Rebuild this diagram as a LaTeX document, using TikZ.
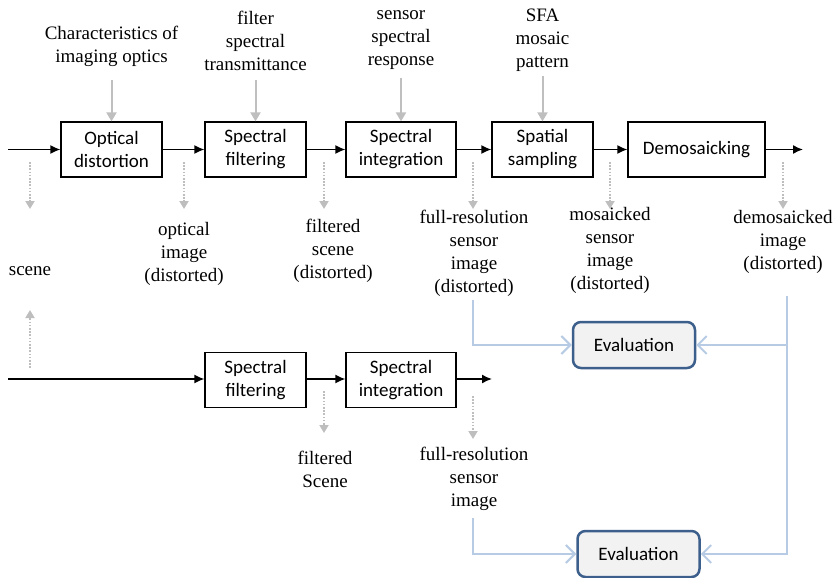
\documentclass[tikz,border=0pt]{standalone}
\usepackage{fontspec}
\setmainfont{Liberation Serif}
\newfontfamily\boxfont{Carlito}
\usetikzlibrary{arrows.meta}
\definecolor{feedgray}{RGB}{191,191,191}
\definecolor{tapgray}{RGB}{190,190,190}
\definecolor{evalblue}{RGB}{61,95,140}
\definecolor{evalfill}{RGB}{242,242,242}
\definecolor{linkblue}{RGB}{183,204,228}
\begin{document}
\begin{tikzpicture}[x=1pt,y=-1pt,
  proc/.style={draw=black, line width=1.2pt, fill=white, minimum height=55pt,
    inner sep=0pt, align=center, font=\boxfont\fontsize{19}{23}\selectfont},
  lbl/.style={align=center, inner sep=0pt, font=\fontsize{19}{23}\selectfont},
  flow/.style={line width=1.5pt, -{Latex[length=10pt,width=9pt]}},
  feed/.style={line width=2pt, draw=feedgray, -{Triangle[length=9pt,width=10pt,fill=feedgray]}},
  tap/.style={line width=1.8pt, draw=tapgray, dash pattern=on 1.6pt off 1.6pt,
    -{Triangle[length=8pt,width=9pt,fill=tapgray]}},
  evalbox/.style={draw=evalblue, line width=2.5pt, fill=evalfill, rounded corners=8pt,
    minimum width=122pt, minimum height=46pt, inner sep=0pt,
    font=\boxfont\fontsize{19}{23}\selectfont},
  link/.style={draw=linkblue, line width=2pt, -{Straight Barb[length=9pt,width=18pt]}}
]
\path[use as bounding box] (0,0) rectangle (836,578);

% ---- upper chain ----
\node[proc, minimum width=101pt] (od) at (111.5,149.5) {Optical\\distortion};
\node[proc, minimum width=101pt] (sf) at (255.5,149.5) {Spectral\\filtering};
\node[proc, minimum width=110pt] (si) at (401,149.5) {Spectral\\integration};
\node[proc, minimum width=101pt] (ss) at (542.5,149.5) {Spatial\\sampling};
\node[proc, minimum width=137pt] (dm) at (696.5,149.5) {Demosaicking};
\coordinate (in1) at (8,149.5);
\coordinate (out1) at (803,149.5);
\draw[flow] (in1) -- (od);
\draw[flow] (od) -- (sf);
\draw[flow] (sf) -- (si);
\draw[flow] (si) -- (ss);
\draw[flow] (ss) -- (dm);
\draw[flow] (dm) -- (out1);

% ---- inputs feeding each stage ----
\node[lbl] (pOpt) at (111.5,46) {Characteristics of\\imaging optics};
\node[lbl] (pFil) at (255.5,40.5) {filter\\spectral\\transmittance};
\node[lbl] (pSen) at (401,40.5) {sensor\\spectral\\response};
\node[lbl] (pSfa) at (542.5,40.5) {SFA\\mosaic\\pattern};
\coordinate (fOpt) at (111.5,80);
\coordinate (fFil) at (255.5,80);
\coordinate (fSen) at (401,78);
\coordinate (fSfa) at (542.5,76);
\draw[feed] (fOpt) -- (od.north);
\draw[feed] (fFil) -- (sf.north);
\draw[feed] (fSen) -- (si.north);
\draw[feed] (fSfa) -- (ss.north);

% ---- intermediate signals (upper) ----
\node[lbl] (sc) at (30,271) {scene};
\node[lbl] (oi) at (184,253.5) {optical\\image\\(distorted)};
\node[lbl] (fsd) at (333,251) {filtered\\scene\\(distorted)};
\node[lbl] (frd) at (474,253) {full-resolution\\sensor\\image\\(distorted)};
\node[lbl] (msd) at (610,250.5) {mosaicked\\sensor\\image\\(distorted)};
\node[lbl] (dmd) at (783,242) {demosaicked\\image\\(distorted)};

\foreach \x/\n in {30/a, 184/b, 324/c, 473/d, 610/e, 783/f}{
  \coordinate (t\n1) at (\x,162);
  \coordinate (t\n2) at (\x,209);
  \draw[tap] (t\n1) -- (t\n2);
}

% ---- lower chain ----
\coordinate (in2) at (8,379);
\coordinate (out2) at (492,379);
\node[proc, minimum width=101pt] (sf2) at (255.5,380) {Spectral\\filtering};
\node[proc, minimum width=110pt] (si2) at (401,380) {Spectral\\integration};
\draw[flow] (in2) -- (sf2.west |- in2);
\draw[flow] (sf2.east |- in2) -- (si2.west |- in2);
\draw[flow] (si2.east |- in2) -- (out2);

\coordinate (up1) at (30,368);
\coordinate (up2) at (30,310);
\draw[tap] (up1) -- (up2);
\coordinate (tg1) at (324,391);
\coordinate (tg2) at (324,433);
\draw[tap] (tg1) -- (tg2);
\coordinate (th1) at (473,396);
\coordinate (th2) at (473,439);
\draw[tap] (th1) -- (th2);

\node[lbl] (fs2) at (325,469) {filtered\\Scene};
\node[lbl] (fr2) at (474,479) {full-resolution\\sensor\\image};

% ---- evaluation ----
\node[evalbox] (ev1) at (634,345) {Evaluation};
\node[evalbox] (ev2) at (638.5,554) {Evaluation};

\coordinate (lt) at (473,300);
\coordinate (lb) at (473,518);
\coordinate (rt) at (787,296);
\coordinate (rm) at (787,345);
\draw[link] (lt) |- (ev1.west);
\draw[link] (rt) |- (ev2.east);
\draw[link] (rm) -- (ev1.east);
\draw[link] (lb) |- (ev2.west);
\end{tikzpicture}
\end{document}
